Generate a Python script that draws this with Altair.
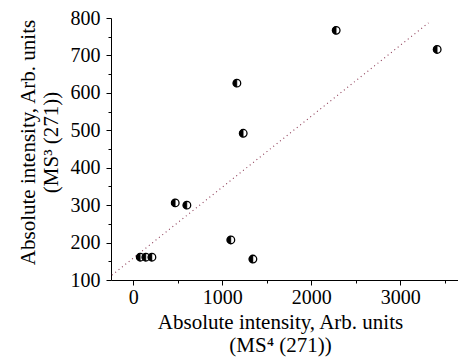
import altair as alt
import pandas as pd

# Data
ms4 = [79, 142, 210, 472, 603, 1097, 1165, 1236, 1345, 2281, 3416]
ms3 = [161, 161, 161, 306, 300, 207, 626, 492, 156, 767, 716]

fit_x = [-240, 3318]
fit_y = [113, 787]

x_ticks = [0, 500, 1000, 1500, 2000, 2500, 3000, 3500]
y_ticks = [100, 150, 200, 250, 300, 350, 400, 450, 500, 550, 600, 650, 700, 750, 800]

pts = pd.DataFrame({"x": ms4, "y": ms3})
fit = pd.DataFrame({"x": fit_x, "y": fit_y})

FONT = "Liberation Serif"

xscale = alt.Scale(domain=[-250, 3650], nice=False, zero=False)
yscale = alt.Scale(domain=[100, 800], nice=False, zero=False)

xaxis = alt.Axis(
    values=x_ticks,
    labelExpr="datum.value % 1000 == 0 ? datum.label : ''",
    format="d",
    grid=False,
    domainColor="black",
    tickColor="black",
    tickSize={"condition": {"test": "datum.value % 1000 == 0", "value": 5}, "value": 3},
    labelFont=FONT,
    labelFontSize=20,
    labelColor="black",
    labelPadding=2,
    labelOverlap=False,
    title=["Absolute intensity, Arb. units", "(MS\u2074 (271))"],
    titleFont=FONT,
    titleFontSize=21,
    titleFontWeight="normal",
    titleColor="black",
    titleLineHeight=23,
    titlePadding=4,
    titleX=169,
    labelFlush=False,
)

yaxis = alt.Axis(
    values=y_ticks,
    labelExpr="datum.value % 100 == 0 ? datum.label : ''",
    format="d",
    grid=False,
    domainColor="black",
    tickColor="black",
    tickSize={"condition": {"test": "datum.value % 100 == 0", "value": 5}, "value": 3},
    labelFont=FONT,
    labelFontSize=20,
    labelColor="black",
    labelPadding=6,
    labelOverlap=False,
    labelBound=False,
    title=["Absolute intensity, Arb. units", "(MS\u00b3 (271))"],
    titleFont=FONT,
    titleFontSize=21,
    titleFontWeight="normal",
    titleColor="black",
    titleLineHeight=23,
    titlePadding=9,
    titleY=124,
    labelFlush=False,
)

X = alt.X("x:Q", scale=xscale, axis=xaxis)
Y = alt.Y("y:Q", scale=yscale, axis=yaxis)

line = alt.Chart(fit).mark_line(
    color="#8c3a55", strokeWidth=1.1, strokeDash=[1, 3.3], clip=True
).encode(x=X, y=Y)

outer = alt.Chart(pts).mark_point(
    shape="circle", filled=True, fill="white", stroke="black", strokeWidth=1.3, size=58, opacity=1
).encode(x=X, y=Y)

half = alt.Chart(pts).mark_point(
    shape="M0,-1 A1,1 0 0,0 0,1 Z", filled=True, fill="black", stroke="black", strokeWidth=0.5, size=58, opacity=1
).encode(x=X, y=Y)

chart = (
    alt.layer(line, outer, half)
    .properties(
        width=347,
        height=262,
        autosize=alt.AutoSizeParams(type="none"),
        padding={"left": 111, "top": 18, "right": 0, "bottom": 84},
        background="white",
    )
    .configure_view(stroke=None)
    .configure_axis(labelOverlap=False)
)

chart.save("out.html", embed_options={"renderer": "svg", "actions": False})
